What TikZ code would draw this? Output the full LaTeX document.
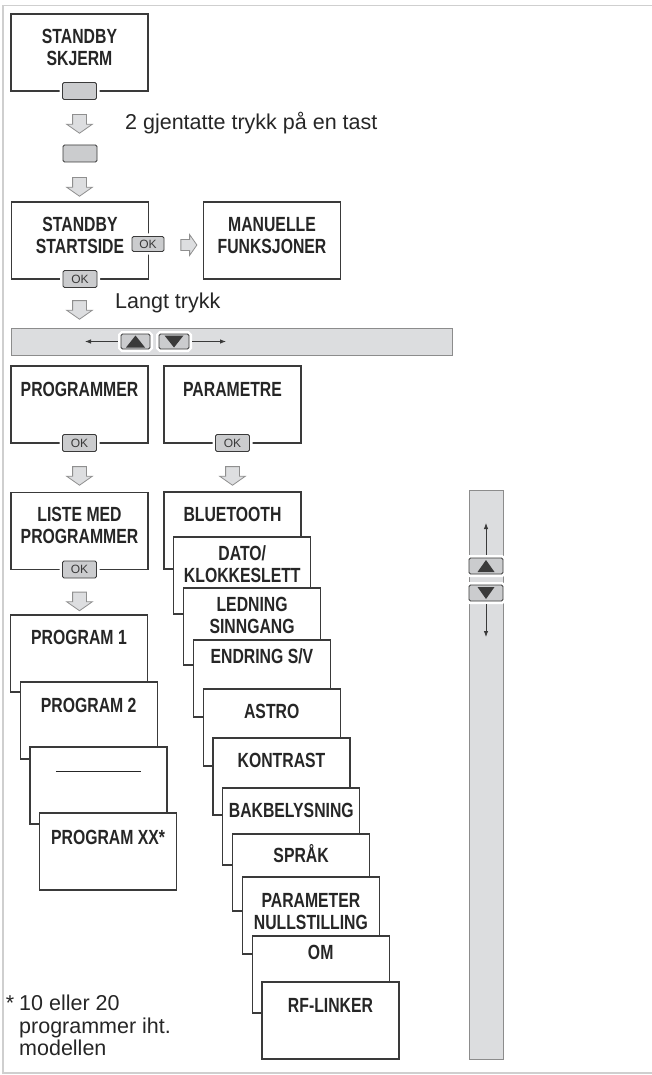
\documentclass[tikz,border=0pt]{standalone}
\usepackage{fontspec}
\setmainfont{Liberation Sans}
\newfontfamily\cndfont{Liberation Sans}[FakeStretch=0.77]
\usetikzlibrary{shapes.arrows,arrows.meta}

\definecolor{ink}{HTML}{3A3A3A}
\definecolor{txt}{HTML}{262626}
\definecolor{btnfill}{HTML}{CBCCCE}
\definecolor{barfill}{HTML}{DCDDDF}
\definecolor{barline}{HTML}{8C8C8C}
\definecolor{arrfill}{HTML}{DDDEE0}
\definecolor{arrline}{HTML}{8F8F8F}
\definecolor{framecol}{HTML}{CFCFCF}

\newcommand\menufont{\cndfont\bfseries\fontsize{20.5}{22}\selectfont\color{txt}}
% menu text: top gap, then the lines
\newcommand\mtxt[2]{\parbox[c][77pt][t]{137pt}{\centering\vspace*{#1pt}#2\par}}
% black triangles in the arrow keys
\newcommand\triup[3]{\fill[ink] ([shift={(-#2,#3)}]#1.center) -- ([shift={(#2,#3)}]#1.center) -- ([shift={(0,-#3)}]#1.center) -- cycle;}
\newcommand\tridn[3]{\fill[ink] ([shift={(-#2,-#3)}]#1.center) -- ([shift={(#2,-#3)}]#1.center) -- ([shift={(0,#3)}]#1.center) -- cycle;}

\begin{document}
\begin{tikzpicture}[
    x=1pt, y=-1pt,
    menu/.style={draw=ink, line width=1.2pt, fill=white, inner sep=0pt, outer sep=0pt, font=\menufont},
    btn/.style={draw=ink, line width=0.9pt, fill=btnfill, rounded corners=1.5pt, minimum width=34pt, minimum height=17pt, inner sep=0pt, font=\fontsize{12}{12}\selectfont\color{ink}, preaction={draw=white, line width=6pt}},
    dnarr/.style={single arrow, draw=arrline, fill=arrfill, line width=0.8pt, inner sep=6.5pt, single arrow head extend=6pt, single arrow tip angle=110, minimum height=18pt, shape border rotate=270},
    rtarr/.style={dnarr, inner sep=5pt, single arrow head extend=5pt, minimum height=16pt, shape border rotate=0},
    scrollbar/.style={draw=barline, line width=0.9pt, fill=barfill, inner sep=0pt},
    navarr/.style={draw=ink, line width=0.8pt, -{Latex[length=6pt,width=4.5pt]}, shorten <=3pt},
    note/.style={font=\fontsize{21.5}{22.5}\selectfont\color{txt}, inner sep=0pt},
]
\useasboundingbox (0,0) rectangle (652,1075);

% ---- frame ----
\draw[framecol, line width=1.5pt] (652,5.5) -- (3,5.5) -- (3,1073) -- (652,1073);

% ---- standby ----
\node[menu] (sk) at (79.5,52.5) {\mtxt{15}{STANDBY\\SKJERM}};
\node[btn] (b1) at (sk.south) {};
\node[note, anchor=base west] (rep) at (125,130) {2 gjentatte trykk på en tast};
\node[btn] (b2) at (80,153.5) {};

\node[menu] (ss) at (80,240.5) {\mtxt{15}{STANDBY\\STARTSIDE}};
\node[btn, minimum width=32pt, minimum height=15pt] (ok1) at (148,244) {OK};
\node[btn] (ok2) at (ss.south) {OK};
\node[rtarr] (arr-r) at (187,245) {};
\node[menu] (mf) at (272,240.5) {\mtxt{15}{MANUELLE\\FUNKSJONER}};
\node[note, anchor=base west] (long) at (115,308) {Langt trykk};

% ---- navigation bar ----
\node[scrollbar, minimum width=441pt, minimum height=27pt] (hbar) at (231.5,341.5) {};
\node[btn, minimum width=29pt, minimum height=15pt] (hup) at (135.5,341.5) {};
\node[btn, minimum width=30pt, minimum height=15pt] (hdn) at (174,341.5) {};
\triup{hup}{9.5}{6}
\tridn{hdn}{9.5}{6}
\coordinate (hl) at (85,341.5);
\coordinate (hr) at (226,341.5);
\draw[navarr] (hup.west) -- (hl);
\draw[navarr] (hdn.east) -- (hr);

% ---- first level ----
\node[menu] (prg) at (79.5,404.5) {\mtxt{16}{PROGRAMMER}};
\node[btn] (ok3) at (prg.south) {OK};
\node[menu] (par) at (232.5,404.5) {\mtxt{16}{PARAMETRE}};
\node[btn] (ok4) at (par.south) {OK};
\node[menu] (lst) at (79.5,531) {\mtxt{15}{LISTE MED\\PROGRAMMER}};
\node[btn] (ok5) at (lst.south) {OK};

% ---- down arrows ----
\foreach \n/\x/\y in {1/79.5/121.5, 2/79.5/184.5, 3/79.5/307.5, 4/79.5/473.5, 5/232.5/473.5, 6/79.5/599}
  \node[dnarr] (arr-\n) at (\x,\y) {};

% ---- program list ----
\foreach \i/\ty/\dy/\lbl in {1/615/15/{PROGRAM 1}, 2/682/16/{PROGRAM 2}, 3/747/24/{\rule{85pt}{1.2pt}}, 4/813/17/{PROGRAM XX*}}
  \node[menu] (prog-\i) at ({79+9.7*(\i-1)},{\ty+38.5}) {\mtxt{\dy}{\lbl}};

% ---- parameter list ----
\foreach \i/\ty/\dy/\lbl in {1/492/15/{BLUETOOTH}, 2/537/9/{DATO/\\KLOKKESLETT}, 3/588/9/{LEDNING\\SINNGANG},
    4/640/9/{ENDRING S/V}, 5/689/15/{ASTRO}, 6/738/15/{KONTRAST}, 7/788/15/{BAKBELYSNING}, 8/834/10/{SPRÅK},
    9/877/16/{PARAMETER\\NULLSTILLING}, 10/936/9/{OM}, 11/982/16/{RF-LINKER}}
  \node[menu] (set-\i) at ({232.5+9.8*(\i-1)},{\ty+38.5}) {\mtxt{\dy}{\lbl}};

% ---- scroll bar ----
\node[scrollbar, minimum width=34pt, minimum height=568.5pt] (vbar) at (486,774.75) {};
\node[btn, minimum height=16pt] (vup) at (486,566) {};
\node[btn, minimum height=16pt] (vdn) at (486,593) {};
\triup{vup}{8.5}{6}
\tridn{vdn}{8.5}{6}
\coordinate (vt) at (486,523);
\coordinate (vb) at (486,637);
\draw[navarr] (vup.north) -- (vt);
\draw[navarr] (vdn.south) -- (vb);

% ---- footnote ----
\node[note, anchor=north west, align=left] (fn) at (19,995) {\llap{*\hspace{5pt}}10 eller 20\\programmer iht.\\modellen};

\end{tikzpicture}
\end{document}
